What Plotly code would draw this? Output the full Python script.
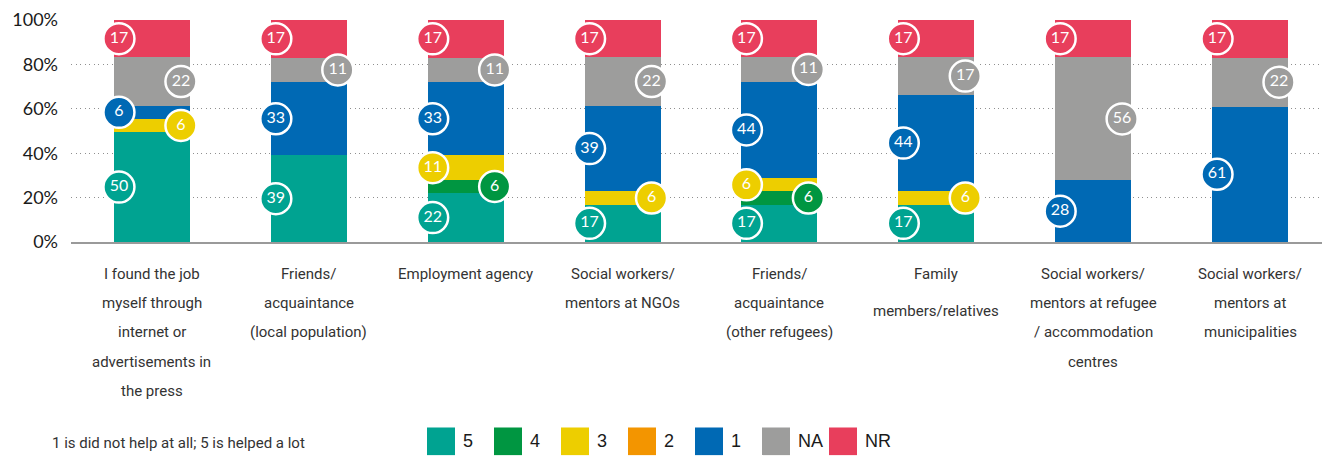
import plotly.graph_objects as go

# ---------------- data ----------------
categories = [
    ["I found the job", "myself through", "internet or", "advertisements in", "the press"],
    ["Friends/", "acquaintance", "(local population)"],
    ["Employment agency"],
    ["Social workers/", "mentors at NGOs"],
    ["Friends/", "acquaintance", "(other refugees)"],
    ["Family", "members/relatives"],
    ["Social workers/", "mentors at refugee", "/ accommodation", "centres"],
    ["Social workers/", "mentors at", "municipalities"],
]
series_names = ["5", "4", "3", "2", "1", "NA", "NR"]
s5 = [50, 39, 22, 17, 17, 17, 0, 0]
s4 = [0, 0, 6, 0, 6, 0, 0, 0]
s3 = [6, 0, 11, 6, 6, 6, 0, 0]
s2 = [0, 0, 0, 0, 0, 0, 0, 0]
s1 = [6, 33, 33, 39, 44, 44, 28, 61]
sNA = [22, 11, 11, 22, 11, 17, 56, 22]
sNR = [17, 17, 17, 17, 17, 17, 17, 17]
series_values = [s5, s4, s3, s2, s1, sNA, sNR]
colors = ["#00A391", "#009641", "#EDCE00", "#F39500", "#0069B4", "#9D9D9C", "#E83E5C"]
y_ticks = [0, 20, 40, 60, 80, 100]
y_tick_labels = ["0%", "20%", "40%", "60%", "80%", "100%"]
note = "1 is did not help at all; 5 is helped a lot"

# ---------------- layout constants ----------------
W, H = 1330, 459
ML, MR, MT, MB = 71, 8, 17, 217
PW, PH = W - ML - MR, H - MT - MB
XR = [-0.516, 7.459]
unit_px = PW / (XR[1] - XR[0])
LEFT_OFF = -33 / unit_px
RIGHT_OFF = 29 / unit_px

NUM_FONT = "Lato, Open Sans, sans-serif"
COND_FONT = "Roboto, Liberation Sans, sans-serif"

def px_x(px):
    return (px - ML) / PW

def px_y(py):
    return (H - MB - py) / PH

fig = go.Figure()
n = len(categories)
xs = list(range(n))

for name, vals, col in zip(series_names, series_values, colors):
    fig.add_trace(go.Bar(
        x=xs, y=vals, name=name, marker=dict(color=col, line=dict(width=0)),
        width=0.485, showlegend=False, hoverinfo="skip",
    ))

# circle labels
totals = [sum(v[i] for v in series_values) for i in range(n)]
for i in range(n):
    cum = 0.0
    low_count = 0
    for si, (name, vals, col) in enumerate(zip(series_names, series_values, colors)):
        v = vals[i]
        if v <= 0:
            continue
        h = v / totals[i] * 100
        yc = cum + h / 2
        cum += h
        if name in ("5", "4", "3", "2"):
            side = "L" if low_count % 2 == 0 else "R"
            low_count += 1
        elif name == "NA":
            side = "R"
        else:
            side = "L"
        xo = i + (LEFT_OFF if side == "L" else RIGHT_OFF)
        fig.add_trace(go.Scatter(
            x=[xo], y=[yc], mode="markers+text", text=[str(v)],
            textposition="middle center",
            textfont=dict(family=NUM_FONT, size=16, color="white"),
            marker=dict(size=31, color=col, line=dict(color="white", width=2.5)),
            showlegend=False, hoverinfo="skip", cliponaxis=False,
        ))

annotations = []
shapes = []
# category labels
for i, lines in enumerate(categories):
    spacing = 29.4
    if len(lines) == 2 and lines[0] == "Family":
        spacing = 37
    for k, line in enumerate(lines):
        annotations.append(dict(
            x=i, xref="x", y=0, yref="paper", yanchor="middle", xanchor="center",
            yshift=-(31.5 + k * spacing), text=line, showarrow=False,
            font=dict(family=COND_FONT, size=15, color="#333333"),
        ))

# note
annotations.append(dict(
    x=px_x(178), xref="paper", y=px_y(446), yref="paper", xanchor="center", yanchor="middle",
    text=note, showarrow=False, font=dict(family=COND_FONT, size=15, color="#333333"),
))

# custom legend
start = 427
step = 67
sq = 28
for k, (name, col) in enumerate(zip(series_names, colors)):
    x0 = start + k * step
    shapes.append(dict(
        type="rect", xref="paper", yref="paper",
        x0=px_x(x0), x1=px_x(x0 + sq), y0=px_y(430), y1=px_y(430 + sq),
        fillcolor=col, line=dict(width=0),
    ))
    annotations.append(dict(
        x=px_x(x0 + sq + 6), xref="paper", y=px_y(444), yref="paper",
        xanchor="left", yanchor="middle", text=name, showarrow=False,
        font=dict(family="Liberation Sans, Arial, sans-serif", size=18, color="#1a1a1a"),
    ))

fig.update_layout(
    width=W, height=H,
    margin=dict(l=ML, r=MR, t=MT, b=MB, pad=0),
    barmode="stack", barnorm="percent",
    plot_bgcolor="white", paper_bgcolor="white",
    xaxis=dict(range=XR, showticklabels=False, showgrid=False, zeroline=False,
               showline=True, linecolor="#9a9a9a", linewidth=1.5, ticks=""),
    yaxis=dict(range=[0, 100], tickmode="array", tickvals=y_ticks, ticktext=y_tick_labels,
               showgrid=True, gridcolor="#8f8f8f", griddash="1px,3.5px", gridwidth=1,
               zeroline=False, showline=False, ticklabelstandoff=12,
               tickfont=dict(family=NUM_FONT, size=18, color="#1a1a1a")),
    annotations=annotations, shapes=shapes,
)

fig.write_html(
    "out.html",
    config={"displayModeBar": False},
    post_script="document.body.style.margin='0';document.documentElement.style.overflow='hidden';",
)
